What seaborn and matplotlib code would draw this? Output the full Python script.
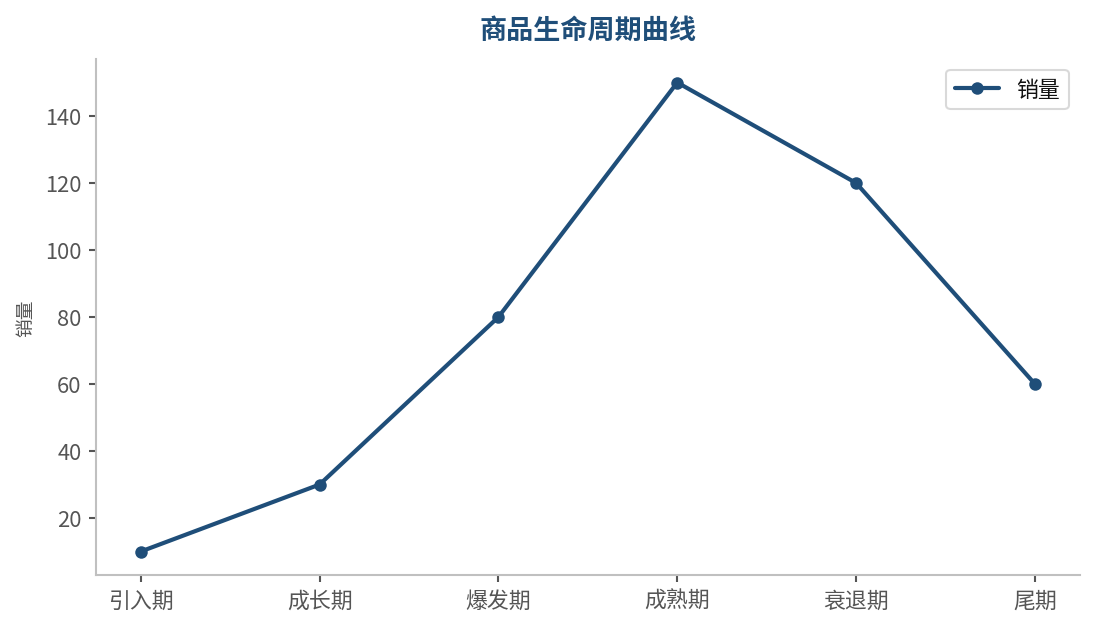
import matplotlib
matplotlib.use("Agg")
import matplotlib.pyplot as plt
import seaborn as sns
import pandas as pd

stages = ["引入期", "成长期", "爆发期", "成熟期", "衰退期", "尾期"]
sales = [10, 30, 80, 150, 120, 60]

sns.set_theme(style="ticks")
plt.rcParams['font.family'] = ['Noto Sans CJK SC', 'DejaVu Sans']

df = pd.DataFrame({"stage": stages, "sales": sales})
line_color = "#1f4e79"

fig, ax = plt.subplots(figsize=(7.3, 4.193), dpi=150)
sns.lineplot(data=df, x="stage", y="sales", ax=ax, color=line_color, linewidth=2,
             marker="o", markersize=6, markeredgewidth=0, label="销量", sort=False)

ax.set_title("商品生命周期曲线", fontsize=13, fontweight="bold", color=line_color, pad=10)
ax.set_xlabel("")
ax.set_ylabel("销量", fontsize=9, color="#555555")
ax.set_yticks([20, 40, 60, 80, 100, 120, 140])
ax.tick_params(axis="both", labelsize=10.5, colors="#555555", length=3.5, width=1)
for lbl in ax.get_xticklabels() + ax.get_yticklabels():
    lbl.set_color("#555555")

sns.despine(ax=ax)
for side in ["left", "bottom"]:
    ax.spines[side].set_color("#c0c0c0")
    ax.spines[side].set_linewidth(1)

leg = ax.legend(loc="upper right", fontsize=10.5, frameon=True)
leg.get_frame().set_edgecolor("#d0d0d0")
for t in leg.get_texts():
    t.set_color("#111111")

fig.subplots_adjust(left=0.0877, right=0.986, bottom=0.0843, top=0.9046)
fig.savefig("out.png", dpi=150)
